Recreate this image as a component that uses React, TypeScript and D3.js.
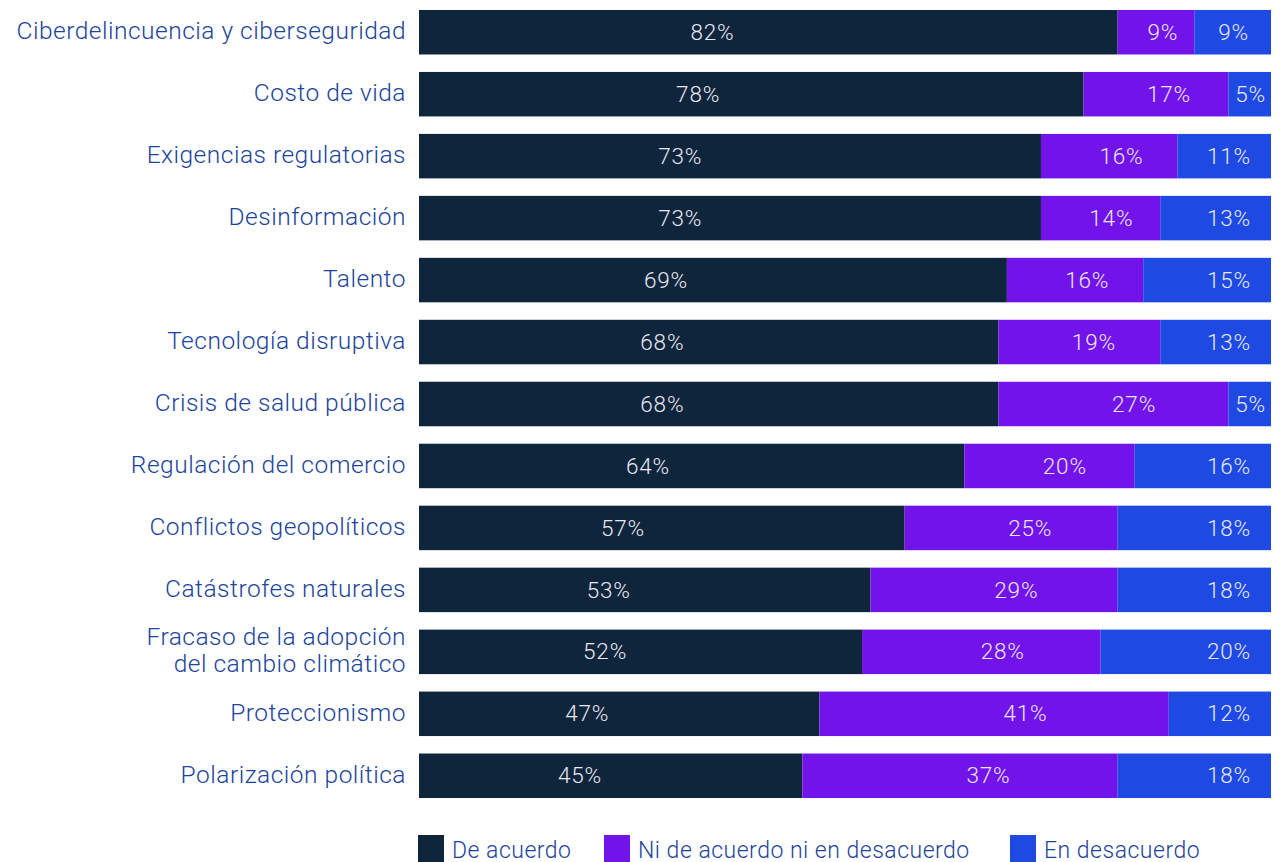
import * as React from 'react';
import * as d3 from 'd3';

// categories, top to bottom
const categories = [
  'Ciberdelincuencia y ciberseguridad',
  'Costo de vida',
  'Exigencias regulatorias',
  'Desinformación',
  'Talento',
  'Tecnología disruptiva',
  'Crisis de salud pública',
  'Regulación del comercio',
  'Conflictos geopolíticos',
  'Catástrofes naturales',
  'Fracaso de la adopción\ndel cambio climático',
  'Proteccionismo',
  'Polarización política',
];

const deAcuerdo = [82, 78, 73, 73, 69, 68, 68, 64, 57, 53, 52, 47, 45];
const niNi = [9, 17, 16, 14, 16, 19, 27, 20, 25, 29, 28, 41, 37];
const enDesacuerdo = [9, 5, 11, 13, 15, 13, 5, 16, 18, 18, 20, 12, 18];

const seriesNames = ['De acuerdo', 'Ni de acuerdo ni en desacuerdo', 'En desacuerdo'];

const colors = ['#0f253c', '#7213ea', '#1e49e2'];
const labelColor = '#1c449a';
const font = 'Roboto, "Liberation Sans", sans-serif';

const W = 1280;
const H = 862;

export default function App() {
  const x = d3.scaleLinear().domain([0, 100]).range([419, 1271]);
  const y = d3.scaleBand<number>()
    .domain(d3.range(categories.length))
    .range([1.25, 806.75])
    .paddingInner(0.282)
    .paddingOuter(0.141);

  const rows = categories.map((c, i) => ({ cat: c, vals: [deAcuerdo[i], niNi[i], enDesacuerdo[i]] }));
  const stack = d3.stack<{ vals: number[] }, number>()
    .keys([0, 1, 2])
    .value((d, k) => d.vals[k]);
  const layers = stack(rows);

  const bw = y.bandwidth();

  // where each segment's value text goes
  const labelPos = (k: number, x0: number, x1: number) => {
    const w = x1 - x0;
    const tw = 42;
    if (k === 0) return { x: x0 + 0.42 * w, anchor: 'middle' };
    if (k === 1) {
      let cx = x0 + 0.59 * w;
      cx = Math.min(cx, x1 - tw / 2 - 6);
      cx = Math.max(cx, x0 + tw / 2 + 4);
      return { x: cx, anchor: 'middle' };
    }
    if (w > tw + 40) return { x: x1 - 20, anchor: 'end' };
    return { x: (x0 + x1) / 2 + 1, anchor: 'middle' };
  };

  const legendX = [418, 604, 1010];

  return (
    <svg width={W} height={H} style={{ position: 'absolute', left: 0, top: 0, fontFamily: font }}>
      <rect width={W} height={H} fill="#ffffff" />
      {layers.map((layer, k) => (
        <g key={k}>
          {layer.map((d, i) => {
            const x0 = x(d[0]);
            const x1 = x(d[1]);
            const yy = y(i) as number;
            const p = labelPos(k, x0, x1);
            return (
              <g key={i}>
                <rect x={x0} y={yy} width={x1 - x0} height={bw} fill={colors[k]} />
                <text
                  x={p.x}
                  y={yy + bw / 2}
                  dy="0.34em"
                  textAnchor={p.anchor}
                  fontSize={22.5}
                  fontWeight={300}
                  letterSpacing={0.8}
                  fill="#e8e8f2"
                >
                  {rows[i].vals[k]}%
                </text>
              </g>
            );
          })}
        </g>
      ))}
      {categories.map((c, i) => {
        const lines = c.split('\n');
        const cy = (y(i) as number) + bw / 2;
        const lh = 27;
        return (
          <text key={i} x={406} textAnchor="end" fontSize={24.5} fontWeight={300} letterSpacing={0.5} fill={labelColor}>
            {lines.map((l, j) => (
              <tspan key={j} x={406} y={cy + (j - (lines.length - 1) / 2) * lh} dy="0.28em">{l}</tspan>
            ))}
          </text>
        );
      })}
      {seriesNames.map((s, k) => (
        <g key={s} transform={`translate(${legendX[k]},835)`}>
          <rect width={26} height={27} fill={colors[k]} />
          <text x={34} y={23} fontSize={23} fontWeight={300} letterSpacing={0.5} fill={labelColor}>{s}</text>
        </g>
      ))}
    </svg>
  );
}
